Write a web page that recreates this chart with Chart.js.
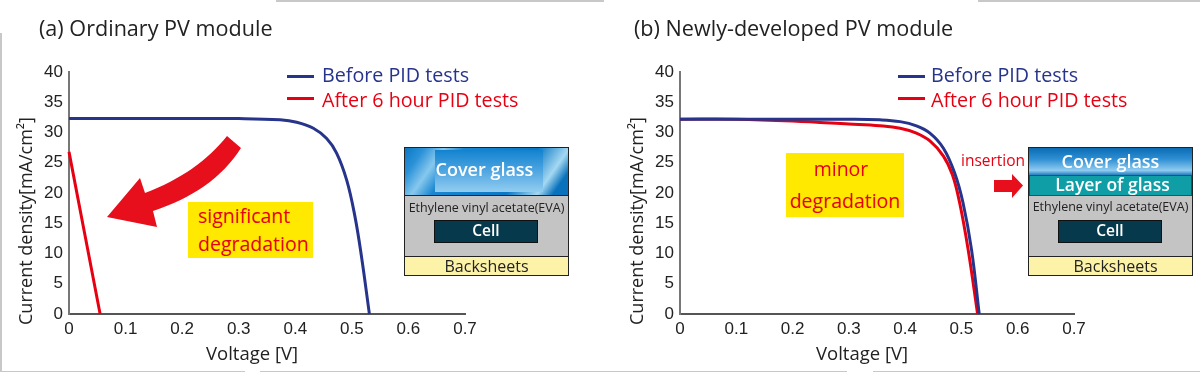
<!DOCTYPE html>
<html>
<head>
<meta charset="utf-8">
<script src="https://cdn.jsdelivr.net/npm/chart.js@4"></script>
<style>
    html, body { margin: 0; padding: 0; background: #fff; }
    #page { position: relative; width: 1200px; height: 372px; overflow: hidden; font-family: "Open Sans", sans-serif; }
    #page canvas { position: absolute; top: 0; }
    .t { position: absolute; white-space: nowrap; line-height: 1; }
    .edge { position: absolute; background: #c8c8c8; }
    .title { font-size: 21.6px; color: #222; top: 17px; }
    .axis { font-size: 18.5px; color: #222; top: 344px; }
    .ylabel { font-size: 18px; color: #222; top: 325px; transform-origin: 0 0; transform: rotate(-90deg); }
    .swatch { position: absolute; height: 3px; width: 27px; }
    .legend { font-size: 19.7px; }
    .note { position: absolute; background: #ffe900; color: #e60012; font-size: 19.5px; line-height: 28px; }
    .stack { position: absolute; width: 163px; border: 1.5px solid #222; box-sizing: content-box; }
    .box { position: absolute; box-sizing: border-box; text-align: center; }
    .glass { background: linear-gradient(180deg, #0a6cb4 0%, #2f8fd4 40%, #8fcbf0 80%, #0a6cb4 100%); color: #fff; font-weight: 600; font-size: 18px; }
    .glassA { background: linear-gradient(125deg, #0a78c4 0%, #2c92d8 10%, #86c8ee 20%, #1a86d0 30%, #0a78c4 68%, #a4d8f2 84%, #0a72bc 92%, #0a72bc 100%); }
    .pane { position: absolute; background: linear-gradient(180deg, #1283d0 0%, #48a2e0 45%, #93cdf0 100%); }
    .eva { background: #c4c4c4; color: #222; font-size: 12.5px; }
    .cell { background: #06394c; border: 1.5px solid #111; color: #fff; font-weight: 600; font-size: 15.5px; }
    .back { background: #fdf3a8; border-top: 1.5px solid #222; color: #222; font-size: 16px; }
</style>
</head>
<body>
<div id="page">
    <div class="edge" style="left:276px;top:0;width:328px;height:1.5px"></div>
    <div class="edge" style="left:978px;top:0;width:222px;height:1.5px"></div>
    <div class="edge" style="left:0;top:33px;width:1.5px;height:339px"></div>
    <div class="edge" style="left:0;top:370.5px;width:245px;height:1.5px"></div>
    <div class="edge" style="left:260px;top:370.5px;width:587px;height:1.5px"></div>
    <div class="edge" style="left:873px;top:370.5px;width:327px;height:1.5px"></div>

    <canvas id="chartA" width="600" height="372" style="left:0"></canvas>
    <canvas id="chartB" width="600" height="372" style="left:600px"></canvas>

    <div class="t title" style="left:39px">(a) Ordinary PV module</div>
    <div class="t title" style="left:634px">(b) Newly-developed PV module</div>
    <div class="t axis" style="left:206px">Voltage [V]</div>
    <div class="t axis" style="left:816px">Voltage [V]</div>
    <div class="t ylabel" style="left:16px">Current density[mA/cm²]</div>
    <div class="t ylabel" style="left:627px">Current density[mA/cm²]</div>

    <div id="legendA"></div>
    <div id="legendB"></div>

    <!-- big arrow in panel a, small arrow in panel b -->
    <svg style="position:absolute;left:0;top:0" width="1200" height="372">
        <path d="M227 136 L241 148 C222 178 192 198 153 211 L157 227 L107 217 L140 178 L145 193 C180 180 208 160 227 136 Z" fill="#e60f1b"/>
        <path d="M994 180 L1012 180 L1012 174 L1023 185.5 L1012 198 L1012 192 L994 192 Z" fill="#e60f1b"/>
    </svg>

    <div class="note" style="left:188px;top:202px;width:115px;height:56px;padding-left:10px">significant<br>degradation</div>
    <div class="note" style="left:786px;top:153px;width:118px;height:64px;line-height:32px;text-align:center"><span style="position:relative;left:-4px">minor</span><br>degradation</div>
    <div class="t" style="left:961px;top:153px;font-size:15.5px;color:#e60012">insertion</div>

    <!-- module stack a -->
    <div class="stack" style="left:404px;top:147px;height:127px">
        <div class="box glassA" style="left:0;top:0;width:100%;height:48px;border-bottom:1.5px solid #222"></div>
        <div class="pane" style="left:30px;top:2px;width:108px;height:42px"></div>
        <div class="box" style="left:-2px;top:0;width:100%;height:44px;color:#fff;font-weight:600;font-size:18px;line-height:42px">Cover glass</div>
        <div class="box eva" style="left:0;top:48px;width:100%;height:60px;line-height:24px">Ethylene vinyl acetate(EVA)</div>
        <div class="box cell" style="left:29px;top:72px;width:104px;height:23px;line-height:19px">Cell</div>
        <div class="box back" style="left:0;top:108px;width:100%;height:19px;line-height:18px">Backsheets</div>
    </div>

    <!-- module stack b -->
    <div class="stack" style="left:1028px;top:147px;height:127px">
        <div class="box glass" style="left:0;top:0;width:100%;height:28px;line-height:26px">Cover glass</div>
        <div class="box" style="left:0;top:27px;width:100%;height:21px;background:#109ea6;border:1.5px solid #e60012;color:#fff;font-weight:600;font-size:17.5px;line-height:17px;padding-left:4px">Layer of glass</div>
        <div class="box eva" style="left:0;top:48px;width:100%;height:60px;line-height:22px">Ethylene vinyl acetate(EVA)</div>
        <div class="box cell" style="left:29px;top:72px;width:104px;height:23px;line-height:19px">Cell</div>
        <div class="box back" style="left:0;top:108px;width:100%;height:19px;line-height:18px;padding-left:10px">Backsheets</div>
    </div>
</div>

<script>
const seriesNames = ['Before PID tests', 'After 6 hour PID tests'];
const seriesColors = ['#27348b', '#e60012'];
const yTicks = [0, 5, 10, 15, 20, 25, 30, 35, 40];
const xTicks = [0, 0.1, 0.2, 0.3, 0.4, 0.5, 0.6, 0.7];

// panel a
const voltageBeforeA = [0, 0.1, 0.2, 0.3, 0.373, 0.4025, 0.432, 0.4555, 0.473, 0.491, 0.5055, 0.517, 0.531];
const currentBeforeA = [32.3, 32.3, 32.3, 32.3, 32.1, 31.7, 30.7, 29, 26.6, 22.1, 16.1, 9.5, 0];
const voltageAfterA = [0, 0.055];
const currentAfterA = [26.8, 0];

// panel b
const voltageBeforeB = [0, 0.1, 0.2, 0.3, 0.355, 0.391, 0.42, 0.444, 0.468, 0.488, 0.503, 0.518, 0.5316];
const currentBeforeB = [32.2, 32.2, 32.2, 32.2, 32.1, 31.8, 31.1, 29.9, 27.4, 23.3, 18.3, 10.6, 0];
const voltageAfterB = [0, 0.1, 0.2, 0.3, 0.355, 0.391, 0.42, 0.444, 0.468, 0.484, 0.497, 0.512, 0.5287];
const currentAfterB = [32.2, 32.2, 31.9, 31.4, 31.1, 30.7, 29.9, 28.6, 26.1, 23, 18.3, 10.6, 0];

function toPoints(xs, ys) {
    return xs.map((x, i) => ({ x: x, y: ys[i] }));
}

function buildDataset(index, xs, ys) {
    return {
        label: seriesNames[index],
        data: toPoints(xs, ys),
        borderColor: seriesColors[index],
        borderWidth: 3,
        pointRadius: 0,
        tension: 0.4,
        clip: false
    };
}

function renderChart(canvasId, datasets, yAxisWidth, padding) {
    const tickFont = { family: '"Liberation Sans", Arial, sans-serif', size: 17 };
    new Chart(document.getElementById(canvasId).getContext('2d'), {
        type: 'line',
        data: { datasets: datasets },
        options: {
            responsive: false,
            animation: false,
            layout: { padding: padding },
            plugins: { legend: { display: false }, tooltip: { enabled: false } },
            scales: {
                x: {
                    type: 'linear',
                    min: 0,
                    max: 0.7,
                    afterBuildTicks: axis => { axis.ticks = xTicks.map(v => ({ value: v })); },
                    afterFit: axis => { axis.height = 58; },
                    grid: { display: false, drawTicks: false },
                    border: { color: '#555', width: 2 },
                    ticks: { color: '#222', font: tickFont, padding: 5, maxRotation: 0, autoSkip: false,
                        callback: v => String(v) }
                },
                y: {
                    min: 0,
                    max: 40,
                    afterBuildTicks: axis => { axis.ticks = yTicks.map(v => ({ value: v })); },
                    afterFit: axis => { axis.width = yAxisWidth; },
                    grid: { display: false, drawTicks: false },
                    border: { color: '#777', width: 2 },
                    ticks: { color: '#222', font: tickFont, padding: 6, autoSkip: false,
                        callback: v => String(v) }
                }
            }
        }
    });
}

function renderLegend(id, lineLeft, textLeft) {
    const html = seriesNames.map((name, i) => {
        const lineTop = 74.5 + i * 22.5;
        const textTop = 65 + i * 25;
        return `<div class="swatch" style="left:${lineLeft}px;top:${lineTop}px;background:${seriesColors[i]}"></div>` +
            `<div class="t legend" style="left:${textLeft}px;top:${textTop}px;color:${seriesColors[i]}">${name}</div>`;
    }).join('');
    document.getElementById(id).innerHTML = html;
}

renderChart('chartA', [
    buildDataset(0, voltageBeforeA, currentBeforeA),
    buildDataset(1, voltageAfterA, currentAfterA)
], 69, { top: 72, right: 135 });

renderChart('chartB', [
    buildDataset(0, voltageBeforeB, currentBeforeB),
    buildDataset(1, voltageAfterB, currentAfterB)
], 80, { top: 72, right: 126 });

renderLegend('legendA', 287, 322);
renderLegend('legendB', 898, 931);
</script>
</body>
</html>
